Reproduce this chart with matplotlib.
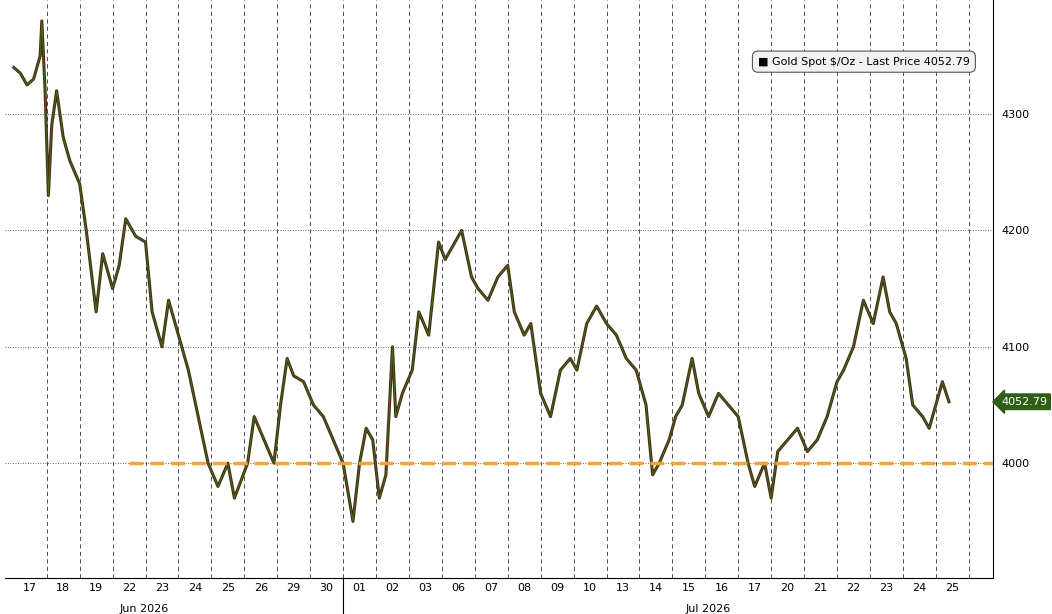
import matplotlib
matplotlib.use("Agg")
import matplotlib.pyplot as plt

# day labels (trading days)
day_labels = ["17", "18", "19", "22", "23", "24", "25", "26", "29", "30",
              "01", "02", "03", "06", "07", "08", "09", "10", "13", "14",
              "15", "16", "17", "20", "21", "22", "23", "24", "25"]
# price path: (fractional day index, price)
path = [
    (0.0, 4340), (0.2, 4335), (0.4, 4325), (0.6, 4330), (0.8, 4350), (0.85, 4380),
    (0.95, 4320), (1.05, 4230), (1.15, 4290), (1.3, 4320), (1.5, 4280), (1.7, 4260),
    (2.0, 4240), (2.2, 4200), (2.5, 4130), (2.7, 4180), (3.0, 4150), (3.2, 4170),
    (3.4, 4210), (3.7, 4195), (4.0, 4190), (4.2, 4130), (4.5, 4100), (4.7, 4140),
    (5.0, 4110), (5.3, 4080), (5.6, 4040), (5.9, 4000), (6.2, 3980), (6.5, 4000),
    (6.7, 3970), (6.9, 3985), (7.1, 4000), (7.3, 4040), (7.6, 4020), (7.9, 4000),
    (8.1, 4050), (8.3, 4090), (8.5, 4075), (8.8, 4070), (9.1, 4050), (9.4, 4040),
    (9.7, 4020), (10.0, 4000), (10.3, 3950), (10.5, 4000), (10.7, 4030), (10.9, 4020),
    (11.1, 3970), (11.3, 3990), (11.5, 4100), (11.6, 4040), (11.8, 4060), (12.1, 4080),
    (12.3, 4130), (12.6, 4110), (12.9, 4190), (13.1, 4175), (13.3, 4185), (13.6, 4200),
    (13.9, 4160), (14.1, 4150), (14.4, 4140), (14.7, 4160), (15.0, 4170), (15.2, 4130),
    (15.5, 4110), (15.7, 4120), (16.0, 4060), (16.3, 4040), (16.6, 4080), (16.9, 4090),
    (17.1, 4080), (17.4, 4120), (17.7, 4135), (18.0, 4120), (18.3, 4110), (18.6, 4090),
    (18.9, 4080), (19.2, 4050), (19.4, 3990), (19.6, 4000), (19.9, 4020), (20.1, 4040),
    (20.3, 4050), (20.6, 4090), (20.8, 4060), (21.1, 4040), (21.4, 4060), (21.7, 4050),
    (22.0, 4040), (22.3, 4000), (22.5, 3980), (22.8, 4000), (23.0, 3970), (23.2, 4010),
    (23.5, 4020), (23.8, 4030), (24.1, 4010), (24.4, 4020), (24.7, 4040), (25.0, 4070),
    (25.2, 4080), (25.5, 4100), (25.8, 4140), (26.1, 4120), (26.4, 4160), (26.6, 4130),
    (26.8, 4120), (27.1, 4090), (27.3, 4050), (27.6, 4040), (27.8, 4030), (28.0, 4050),
    (28.2, 4070), (28.4, 4052.79),
]
t = [p[0] for p in path]
price = [p[1] for p in path]
last_price = 4052.79

fig, ax = plt.subplots(figsize=(10.52, 6.14), dpi=100)
fig.subplots_adjust(left=0.005, right=0.944, top=1.0, bottom=0.058)

ax.set_xlim(-0.26, 29.74)
ax.set_ylim(3901, 4398)

for d in range(1, 30):
    ax.axvline(d, color="#333333", ls=(0, (5, 4)), lw=0.6, zorder=0)
for y in [4000, 4100, 4200, 4300]:
    ax.axhline(y, color="#333333", ls=(0, (1, 2)), lw=0.6, zorder=0)

ax.plot(t, price, color="#4a2a10", lw=2.2, zorder=2)
ax.plot(t, price, color="#3f6e1e", lw=0.7, zorder=3)
ax.plot([3.5, 29.74], [4000, 4000], color="#f2a43a", ls=(0, (4, 2)), lw=2.5, zorder=4)

ax.yaxis.tick_right()
ax.set_yticks([4000, 4100, 4200, 4300])
ax.tick_params(axis="y", labelsize=8, length=0, pad=6)
ax.set_xticks([i + 0.5 for i in range(len(day_labels))])
ax.set_xticklabels(day_labels, fontsize=8)
ax.tick_params(axis="x", length=0, pad=3)
for s in ["top", "left"]:
    ax.spines[s].set_visible(False)
ax.spines["bottom"].set_linewidth(0.8)
ax.spines["right"].set_linewidth(0.8)

ax.text(3.2, -0.045, "Jun 2026", transform=ax.get_xaxis_transform(), ha="left", va="top", fontsize=8)
ax.text(20.4, -0.045, "Jul 2026", transform=ax.get_xaxis_transform(), ha="left", va="top", fontsize=8)
ax.plot([10, 10], [0, -0.06], transform=ax.get_xaxis_transform(), color="black", lw=0.8, clip_on=False)

ax.annotate(f"{last_price:.2f}", xy=(1.0, last_price), xycoords=("axes fraction", "data"),
            xytext=(6, 0), textcoords="offset points", va="center", ha="left",
            fontsize=8, color="white",
            bbox=dict(boxstyle="larrow,pad=0.25", fc="#2f5e16", ec="#2f5e16"))

ax.text(22.6, 4345, "\u25a0 Gold Spot $/Oz - Last Price 4052.79", fontsize=8,
        va="center", ha="left",
        bbox=dict(boxstyle="round,pad=0.5", fc="#f2f2f2", ec="#555555", lw=0.8))

fig.savefig("out.png", dpi=100)
